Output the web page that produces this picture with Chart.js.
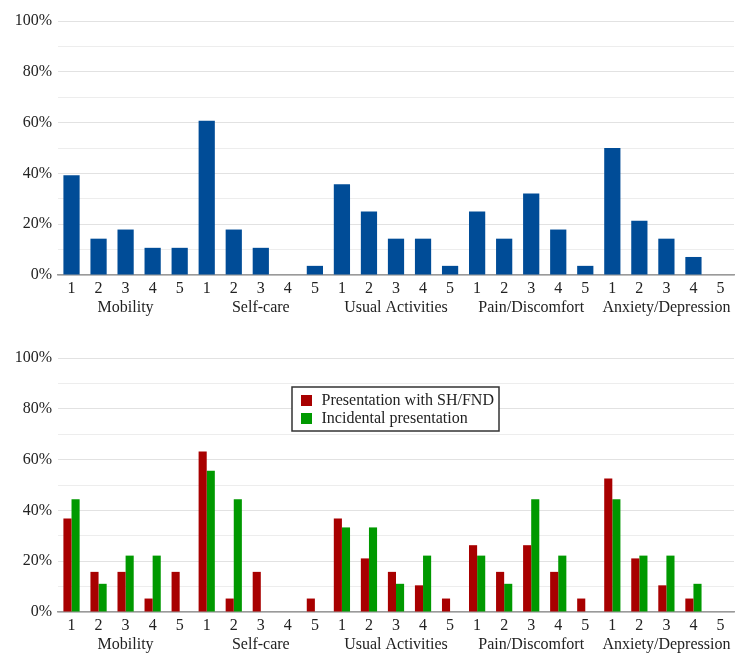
<!DOCTYPE html>
<html>
<head>
<meta charset="utf-8">
<script src="https://cdn.jsdelivr.net/npm/chart.js@4"></script>
<style>
  body { margin: 0; background: #fff; }
  .box { position: absolute; left: 0; width: 749px; }
</style>
</head>
<body>
<div class="box" style="top:0px;height:330px"><canvas id="graph01" width="749" height="330"></canvas></div>
<div class="box" style="top:337px;height:330px"><canvas id="graph02" width="749" height="330"></canvas></div>
<script>
// EQ-5D dimensions and levels
const groups = ['Mobility', 'Self-care', 'Usual Activities', 'Pain/Discomfort', 'Anxiety/Depression'];
const levels = ['1', '2', '3', '4', '5'];

// percentages (5 levels per dimension)
const allPatients = [39.3, 14.3, 17.9, 10.7, 10.7, 60.7, 17.9, 10.7, 0, 3.6, 35.7, 25, 14.3, 14.3, 3.6, 25, 14.3, 32.1, 17.9, 3.6, 50, 21.4, 14.3, 7.1, 0];
const shFnd = [36.8, 15.8, 15.8, 5.3, 15.8, 63.2, 5.3, 15.8, 0, 5.3, 36.8, 21.1, 15.8, 10.5, 5.3, 26.3, 15.8, 26.3, 15.8, 5.3, 52.6, 21.1, 10.5, 5.3, 0];
const incidental = [44.4, 11.1, 22.2, 22.2, 0, 55.6, 44.4, 0, 0, 0, 33.3, 33.3, 11.1, 22.2, 0, 22.2, 11.1, 44.4, 22.2, 0, 44.4, 22.2, 22.2, 11.1, 0];

const yTicks = [0, 20, 40, 60, 80, 100];

const COLORS = {
  blue: 'rgb(0, 76, 151)',
  red: 'rgb(168, 0, 0)',
  green: 'rgb(0, 153, 0)'
};

Chart.defaults.font.family = '"Liberation Serif", "DejaVu Serif", serif';
Chart.defaults.font.size = 16;
Chart.defaults.color = '#222';
Chart.defaults.animation = false;

// every category gets its level, the middle one also gets the dimension name
const labels = [];
groups.forEach(function (g) {
  levels.forEach(function (l, j) {
    labels.push([l, j === 2 ? g : '']);
  });
});

function scalesConfig() {
  return {
    x: {
      grid: { display: false, drawTicks: false },
      border: { color: '#9a9a9a', width: 1.5 },
      ticks: { autoSkip: false, maxRotation: 0, minRotation: 0, padding: 4 },
      afterFit: function (scale) { scale.height = 55; }
    },
    y: {
      min: 0,
      max: 100,
      border: { display: false },
      grid: {
        drawTicks: false,
        color: function (ctx) {
          return yTicks.includes(ctx.tick.value) ? '#e2e2e2' : '#ededed';
        }
      },
      ticks: {
        stepSize: 10,
        padding: 6,
        callback: function (v) { return yTicks.includes(v) ? v + '%' : ''; }
      },
      afterFit: function (scale) { scale.width = 58; }
    }
  };
}

// boxed legend inside the plot area
const boxLegend = {
  id: 'boxLegend',
  afterDraw(chart) {
    const ctx = chart.ctx;
    const area = chart.chartArea;
    const x = area.left + 234;
    const y = area.top + 29;
    ctx.save();
    ctx.fillStyle = '#fff';
    ctx.fillRect(x, y, 207, 44);
    ctx.strokeStyle = '#333';
    ctx.lineWidth = 1.5;
    ctx.strokeRect(x, y, 207, 44);
    ctx.font = '16px "Liberation Serif", serif';
    ctx.textBaseline = 'middle';
    chart.data.datasets.forEach(function (ds, i) {
      const cy = y + 13.5 + i * 18;
      ctx.fillStyle = ds.backgroundColor;
      ctx.fillRect(x + 9, cy - 5.5, 11, 11);
      ctx.fillStyle = '#222';
      ctx.fillText(ds.label, x + 29.5, cy + 0.5);
    });
    ctx.restore();
  }
};

new Chart(document.getElementById('graph01'), {
  type: 'bar',
  data: {
    labels: labels,
    datasets: [{
      label: 'All patients',
      data: allPatients,
      backgroundColor: COLORS.blue,
      categoryPercentage: 0.6,
      barPercentage: 1.0
    }]
  },
  options: {
    responsive: false,
    layout: { padding: { top: 21, right: 15, left: 0, bottom: 0 } },
    plugins: { legend: { display: false }, tooltip: { enabled: false } },
    scales: scalesConfig()
  }
});

new Chart(document.getElementById('graph02'), {
  type: 'bar',
  data: {
    labels: labels,
    datasets: [
      {
        label: 'Presentation with SH/FND',
        data: shFnd,
        backgroundColor: COLORS.red,
        categoryPercentage: 0.6,
        barPercentage: 1.0
      },
      {
        label: 'Incidental presentation',
        data: incidental,
        backgroundColor: COLORS.green,
        categoryPercentage: 0.6,
        barPercentage: 1.0
      }
    ]
  },
  options: {
    responsive: false,
    layout: { padding: { top: 21, right: 15, left: 0, bottom: 0 } },
    plugins: { legend: { display: false }, tooltip: { enabled: false } },
    scales: scalesConfig()
  },
  plugins: [boxLegend]
});
</script>
</body>
</html>
